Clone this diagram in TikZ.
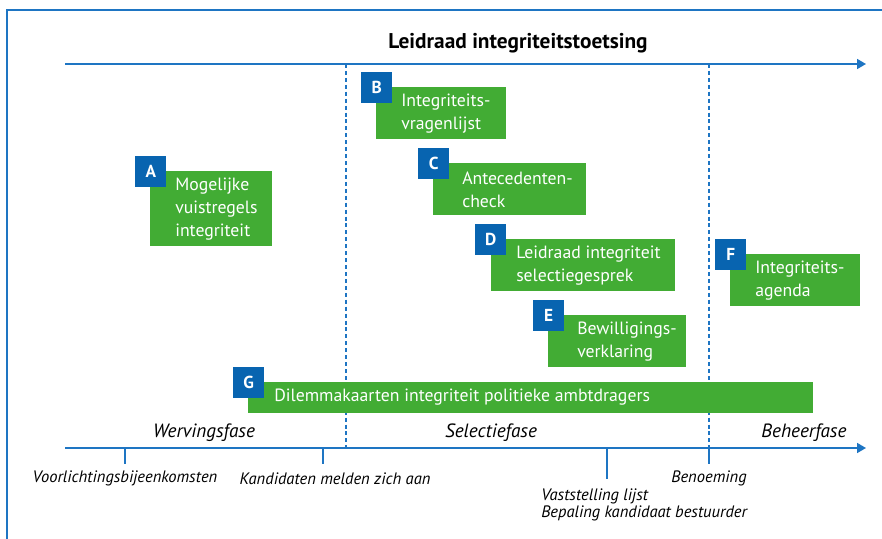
\documentclass[tikz,border=0pt]{standalone}
\usepackage{fontspec}
\setmainfont{PT Sans}
\usetikzlibrary{arrows.meta}
\definecolor{rgreen}{RGB}{66,172,52}
\definecolor{rblue}{RGB}{8,100,176}
\definecolor{rline}{RGB}{30,117,195}
\tikzset{
  greenbox/.style={fill=rgreen, draw=none, anchor=north west, inner sep=0pt},
  letterbox/.style={fill=rblue, draw=none, anchor=north west, inner sep=0pt,
     minimum width=23.25pt, minimum height=23.25pt, text=white,
     font=\fontsize{13pt}{13pt}\selectfont\bfseries},
  boxtext/.style={anchor=west, align=left, text=white, inner sep=0pt,
     font=\fontsize{13.3pt}{17.25pt}\selectfont},
  axis/.style={draw=rline, line width=1.3pt, -{Triangle[length=6.75pt,width=7.5pt]}},
  phaseline/.style={draw=rline, line width=0.8pt, dash pattern=on 3pt off 2.2pt},
  tick/.style={draw=rline, line width=1pt},
  ticklabel/.style={font=\fontsize{12.4pt}{12.75pt}\selectfont\itshape, inner sep=0pt},
  phaselabel/.style={font=\fontsize{14.4pt}{16pt}\selectfont\itshape, inner sep=0pt},
}
\begin{document}
\begin{tikzpicture}[x=0.75pt,y=-0.75pt]
\useasboundingbox (0,0) rectangle (882,539);
% frame
\draw[draw=rline, line width=1.6pt] (7,539) -- (7,10) -- (882,10);
% title
\node[font=\fontsize{16pt}{18pt}\selectfont\bfseries, inner sep=0pt] (title) at (518,43) {Leidraad integriteitstoetsing};
% axes
\coordinate (t0) at (65,64);
\coordinate (t1) at (866,64);
\coordinate (b0) at (65,448);
\coordinate (b1) at (866,448);
\draw[axis] (t0) -- (t1);
\draw[axis] (b0) -- (b1);
% phase separators
\coordinate (s1t) at (346,64);
\coordinate (s1b) at (346,448);
\coordinate (s2t) at (709,64);
\coordinate (s2b) at (709,448);
\draw[phaseline] (s1t) -- (s1b);
\draw[phaseline] (s2t) -- (s2b);
% ticks
\coordinate (k1a) at (125,448); \coordinate (k1b) at (125,464);
\coordinate (k2a) at (323,448); \coordinate (k2b) at (323,464);
\coordinate (k3a) at (607,448); \coordinate (k3b) at (607,479);
\coordinate (k4a) at (709,448); \coordinate (k4b) at (709,464);
\draw[tick] (k1a) -- (k1b);
\draw[tick] (k2a) -- (k2b);
\draw[tick] (k3a) -- (k3b);
\draw[tick] (k4a) -- (k4b);
% tick labels
\node[ticklabel] (l1) at (125,478.5) {Voorlichtingsbijeenkomsten};
\node[ticklabel] (l2) at (335,478.5) {Kandidaten melden zich aan};
\node[ticklabel] (l4) at (709,478.5) {Benoeming};
\node[ticklabel, anchor=north west, align=left] (l3) at (541,489) {Vaststelling lijst\\Bepaling kandidaat bestuurder};
% phase labels
\node[phaselabel] (p1) at (204,433) {Wervingsfase};
\node[phaselabel] (p2) at (491,433) {Selectiefase};
\node[phaselabel] (p3) at (804,433) {Beheerfase};
% boxes
\node[greenbox, minimum width=91.5pt, minimum height=56.25pt] (gA) at (150,171) {};
\node[letterbox] (bA) at (135,156) {A};
\node[boxtext] (tA) at (175,209) {Mogelijke\\vuistregels\\integriteit};

\node[greenbox, minimum width=97.5pt, minimum height=39pt] (gB) at (376,87) {};
\node[letterbox] (bB) at (361,72) {B};
\node[boxtext] (tB) at (401,114) {Integriteits-\\vragenlijst};

\node[greenbox, minimum width=114.75pt, minimum height=39pt] (gC) at (433,163) {};
\node[letterbox] (bC) at (418,148) {C};
\node[boxtext] (tC) at (462,190) {Antecedenten-\\check};

\node[greenbox, minimum width=138pt, minimum height=39pt] (gD) at (491,239) {};
\node[letterbox] (bD) at (475,224) {D};
\node[boxtext] (tD) at (516,266) {Leidraad integriteit\\selectiegesprek};

\node[greenbox, minimum width=103.5pt, minimum height=39pt] (gE) at (548,315) {};
\node[letterbox] (bE) at (533,300) {E};
\node[boxtext] (tE) at (577,342) {Bewilligings-\\verklaring};

\node[greenbox, minimum width=97.5pt, minimum height=39pt] (gF) at (730,254) {};
\node[letterbox] (bF) at (715,239) {F};
\node[boxtext] (tF) at (755,281) {Integriteits-\\agenda};

\node[greenbox, minimum width=423.75pt, minimum height=23.25pt] (gG) at (248,382) {};
\node[letterbox] (bG) at (233,367) {G};
\node[boxtext] (tG) at (274,397.5) {Dilemmakaarten integriteit politieke ambtdragers};
\end{tikzpicture}
\end{document}
